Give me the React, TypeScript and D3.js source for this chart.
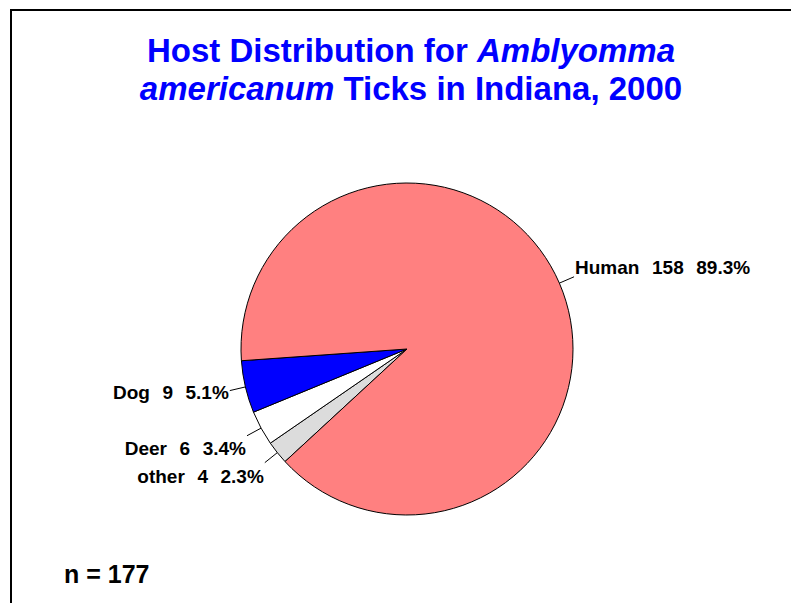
import React from "react";
import * as d3 from "d3";

// Host counts for ticks collected
const hosts = ["other", "Deer", "Dog", "Human"];
const counts = [4, 6, 9, 158];
const colors = ["#dcdcdc", "#ffffff", "#0000ff", "#ff8080"];
const titleLine1 = ["Host Distribution for ", "Amblyomma"];
const titleLine2 = ["americanum", " Ticks in Indiana, 2000"];
const total = d3.sum(counts);

const W = 791;
const H = 603;
const cx = 407;
const cy = 349;
const R = 166;
const leader = 16;
const font = "Arial, 'Liberation Sans', Helvetica, sans-serif";

export default function App() {
  const pie = d3
    .pie<number>()
    .sort(null)
    .value((d) => d)
    .startAngle((227.3 * Math.PI) / 180)
    .endAngle((227.3 * Math.PI) / 180 + 2 * Math.PI);
  const arcs = pie(counts);
  const arc = d3.arc<d3.PieArcDatum<number>>().innerRadius(0).outerRadius(R);

  // label placement: right side labels start after the leader, left side end before it
  const baselineShift = [20, 19, 8, -3];

  return (
    <svg
      width={W}
      height={H}
      style={{ position: "absolute", left: 0, top: 0, background: "#fff" }}
    >
      <rect x={11} y={10} width={900} height={800} fill="none" stroke="#000" strokeWidth={2} />
      <text
        x={411}
        fill="#0000ff"
        fontFamily={font}
        fontWeight="bold"
        fontSize={33}
        textAnchor="middle"
      >
        <tspan x={411} y={62}>
          {titleLine1[0]}
          <tspan fontStyle="italic">{titleLine1[1]}</tspan>
        </tspan>
        <tspan x={411} y={100}>
          <tspan fontStyle="italic">{titleLine2[0]}</tspan>
          {titleLine2[1]}
        </tspan>
      </text>
      <g transform={`translate(${cx},${cy})`}>
        {arcs.map((a, i) => (
          <path key={hosts[i]} d={arc(a) || ""} fill={colors[i]} stroke="#000" strokeWidth={1} />
        ))}
        {arcs.map((a, i) => {
          const mid = (a.startAngle + a.endAngle) / 2;
          const sx = Math.sin(mid);
          const sy = -Math.cos(mid);
          const x1 = sx * R;
          const y1 = sy * R;
          const x2 = sx * (R + leader);
          const y2 = sy * (R + leader);
          const right = sx > 0;
          const pct = ((counts[i] / total) * 100).toFixed(1);
          return (
            <g key={"l" + hosts[i]}>
              <line x1={x1} y1={y1} x2={x2} y2={y2} stroke="#000" strokeWidth={1} />
              <text
                x={x2 + (right ? 1 : -1)}
                y={y2 + baselineShift[i]}
                textAnchor={right ? "start" : "end"}
                fontFamily={font}
                fontWeight="bold"
                fontSize={19}
                fill="#000"
                style={{ whiteSpace: "pre", wordSpacing: "1px" }}
              >
                {`${hosts[i]}  ${counts[i]}  ${pct}%`}
              </text>
            </g>
          );
        })}
      </g>
      <text x={64} y={583} fontFamily={font} fontWeight="bold" fontSize={25} fill="#000">
        {`n = ${total}`}
      </text>
    </svg>
  );
}
